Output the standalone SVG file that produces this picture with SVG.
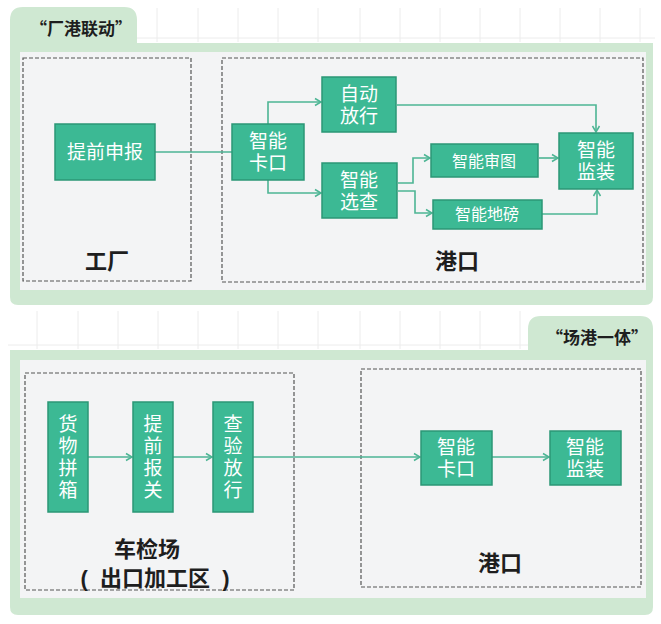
<svg xmlns="http://www.w3.org/2000/svg" width="661" height="624" viewBox="0 0 661 624">
<style>
.grid{stroke:#ececec;stroke-width:1}
.panel{fill:#cfe8d2}
.inner{fill:#f3f4f5}
.zone{fill:none;stroke:#555;stroke-width:1.2;stroke-dasharray:4 2}
.node{fill:#3cb994;stroke:#2b9776;stroke-width:1.5}
.nt{font-family:"Liberation Sans","Noto Sans CJK SC",sans-serif;font-size:19px;fill:#fff;text-anchor:middle;dominant-baseline:central}
.ns{font-size:16px}
.lbl{font-family:"Liberation Sans","Noto Sans CJK SC",sans-serif;font-weight:bold;font-size:22px;fill:#1e1e1e;text-anchor:middle;dominant-baseline:central}
.tab{font-family:"Noto Sans CJK SC","Noto Sans",sans-serif;font-weight:bold;font-size:17px;fill:#1e1e1e;dominant-baseline:central}
.conn{fill:none;stroke:#4db594;stroke-width:1.6}
</style>
<defs>
<marker id="arr" markerWidth="10" markerHeight="10" refX="8" refY="5" orient="auto" markerUnits="userSpaceOnUse">
<path d="M2,1.5 L8,5 L2,8.5" fill="none" stroke="#4db594" stroke-width="1.5"/>
</marker>
</defs>
<rect width="661" height="624" fill="#ffffff"/>
<g id="grid">
<line class="grid" x1="137" y1="38" x2="655" y2="38"/>
<line class="grid" x1="157" y1="8" x2="157" y2="42"/>
<line class="grid" x1="198" y1="8" x2="198" y2="42"/>
<line class="grid" x1="238" y1="8" x2="238" y2="42"/>
<line class="grid" x1="278" y1="8" x2="278" y2="42"/>
<line class="grid" x1="318" y1="8" x2="318" y2="42"/>
<line class="grid" x1="360" y1="8" x2="360" y2="42"/>
<line class="grid" x1="400" y1="8" x2="400" y2="42"/>
<line class="grid" x1="440" y1="8" x2="440" y2="42"/>
<line class="grid" x1="480" y1="8" x2="480" y2="42"/>
<line class="grid" x1="520" y1="8" x2="520" y2="42"/>
<line class="grid" x1="560" y1="8" x2="560" y2="42"/>
<line class="grid" x1="600" y1="8" x2="600" y2="42"/>
<line class="grid" x1="640" y1="8" x2="640" y2="42"/>
<line class="grid" x1="8" y1="345" x2="528" y2="345"/>
<line class="grid" x1="37" y1="311" x2="37" y2="349"/>
<line class="grid" x1="78" y1="311" x2="78" y2="349"/>
<line class="grid" x1="118" y1="311" x2="118" y2="349"/>
<line class="grid" x1="158" y1="311" x2="158" y2="349"/>
<line class="grid" x1="198" y1="311" x2="198" y2="349"/>
<line class="grid" x1="238" y1="311" x2="238" y2="349"/>
<line class="grid" x1="278" y1="311" x2="278" y2="349"/>
<line class="grid" x1="318" y1="311" x2="318" y2="349"/>
<line class="grid" x1="360" y1="311" x2="360" y2="349"/>
<line class="grid" x1="400" y1="311" x2="400" y2="349"/>
<line class="grid" x1="440" y1="311" x2="440" y2="349"/>
<line class="grid" x1="480" y1="311" x2="480" y2="349"/>
<line class="grid" x1="520" y1="311" x2="520" y2="349"/>
</g>
<g id="panel-top">
<path class="panel" d="M10,20 Q10,7 23,7 L124,7 Q137,7 137,20 L137,43 L653,43 L653,297 Q653,305 645,305 L18,305 Q10,305 10,297 Z"/>
<rect class="inner" x="20" y="52" width="626" height="238"/>
<text class="tab" x="30" y="27">“厂港联动”</text>
</g>
<g id="panel-bottom">
<path class="panel" d="M10,350 L528,350 L528,329 Q528,316 541,316 L640,316 Q653,316 653,329 L653,607 Q653,615 645,615 L18,615 Q10,615 10,607 Z"/>
<rect class="inner" x="20" y="360" width="626" height="238"/>
<text class="tab" x="546" y="336">“场港一体”</text>
</g>
<g id="zone-factory">
<rect class="zone" x="23" y="58" width="168" height="223"/>
<text class="lbl" x="107" y="261">工厂</text>
</g>
<g id="zone-port-top">
<rect class="zone" x="222" y="58" width="421" height="224"/>
<text class="lbl" x="457" y="261">港口</text>
</g>
<g id="zone-inspection">
<rect class="zone" x="25" y="373" width="269" height="217"/>
<text class="lbl" x="147" y="549"><tspan x="147" y="549">车检场</tspan><tspan x="155" y="578" xml:space="preserve">(  出口加工区  )</tspan></text>
</g>
<g id="zone-port-bottom">
<rect class="zone" x="361" y="369" width="280" height="218"/>
<text class="lbl" x="500" y="563">港口</text>
</g>
<g id="connectors">
<path class="conn" d="M155,152 L232,152"/>
<path class="conn" d="M268,124 L268,102 L321,102" marker-end="url(#arr)"/>
<path class="conn" d="M268,180 L268,193 L321,193" marker-end="url(#arr)"/>
<path class="conn" d="M397,105 L596,105 L596,132" marker-end="url(#arr)"/>
<path class="conn" d="M398,183 L413,183 L413,158 L430,158" marker-end="url(#arr)"/>
<path class="conn" d="M398,191 L415,191 L415,213 L432,213" marker-end="url(#arr)"/>
<path class="conn" d="M539,158 L558,158" marker-end="url(#arr)"/>
<path class="conn" d="M542,214 L597,214 L597,190" marker-end="url(#arr)"/>
<path class="conn" d="M88,457 L132,457" marker-end="url(#arr)"/>
<path class="conn" d="M173,457 L212,457" marker-end="url(#arr)"/>
<path class="conn" d="M253,457 L420,457" marker-end="url(#arr)"/>
<path class="conn" d="M492,457 L549,457" marker-end="url(#arr)"/>
</g>
<g id="n-tiqianshenbao">
<rect class="node" x="55" y="124" width="100" height="56"/>
<text class="nt" x="105" y="152">提前申报</text>
</g>
<g id="n-kakou-top">
<rect class="node" x="232" y="124" width="72" height="56"/>
<text class="nt" x="268" y="141"><tspan x="268" y="141">智能</tspan><tspan x="268" y="163">卡口</tspan></text>
</g>
<g id="n-zidongfangxing">
<rect class="node" x="322" y="77" width="74" height="55"/>
<text class="nt" x="359" y="94"><tspan x="359" y="94">自动</tspan><tspan x="359" y="116">放行</tspan></text>
</g>
<g id="n-xuancha">
<rect class="node" x="322" y="163" width="75" height="55"/>
<text class="nt" x="359" y="180"><tspan x="359" y="180">智能</tspan><tspan x="359" y="202">选查</tspan></text>
</g>
<g id="n-shentu">
<rect class="node" x="431" y="144" width="107" height="33"/>
<text class="nt ns" x="484" y="161">智能审图</text>
</g>
<g id="n-dibang">
<rect class="node" x="433" y="200" width="109" height="29"/>
<text class="nt ns" x="487" y="214">智能地磅</text>
</g>
<g id="n-jianzhuang-top">
<rect class="node" x="559" y="133" width="74" height="56"/>
<text class="nt" x="596" y="150"><tspan x="596" y="150">智能</tspan><tspan x="596" y="172">监装</tspan></text>
</g>
<g id="n-huowupinxiang">
<rect class="node" x="48" y="402" width="40" height="110"/>
<text class="nt" x="68" y="424"><tspan x="68" y="424">货</tspan><tspan x="68" y="446">物</tspan><tspan x="68" y="468">拼</tspan><tspan x="68" y="490">箱</tspan></text>
</g>
<g id="n-tiqianbaoguan">
<rect class="node" x="133" y="402" width="40" height="110"/>
<text class="nt" x="153" y="424"><tspan x="153" y="424">提</tspan><tspan x="153" y="446">前</tspan><tspan x="153" y="468">报</tspan><tspan x="153" y="490">关</tspan></text>
</g>
<g id="n-chayanfangxing">
<rect class="node" x="213" y="402" width="40" height="110"/>
<text class="nt" x="233" y="424"><tspan x="233" y="424">查</tspan><tspan x="233" y="446">验</tspan><tspan x="233" y="468">放</tspan><tspan x="233" y="490">行</tspan></text>
</g>
<g id="n-kakou-bottom">
<rect class="node" x="421" y="431" width="71" height="54"/>
<text class="nt" x="456" y="447"><tspan x="456" y="447">智能</tspan><tspan x="456" y="469">卡口</tspan></text>
</g>
<g id="n-jianzhuang-bottom">
<rect class="node" x="550" y="431" width="71" height="54"/>
<text class="nt" x="585" y="447"><tspan x="585" y="447">智能</tspan><tspan x="585" y="469">监装</tspan></text>
</g>
</svg>
